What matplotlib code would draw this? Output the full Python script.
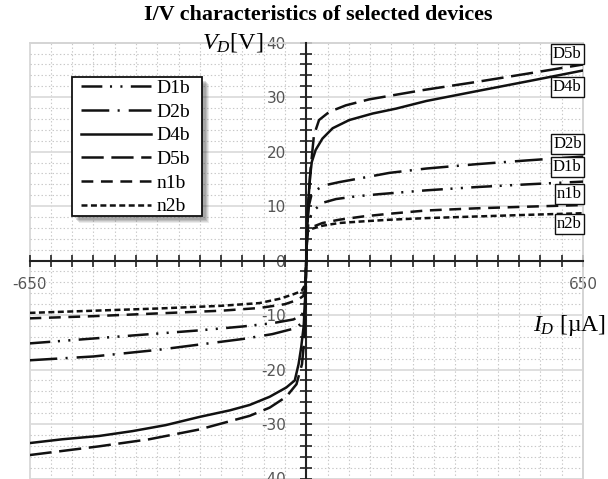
import numpy as np
import matplotlib
matplotlib.use("Agg")
import matplotlib.pyplot as plt
from matplotlib.patches import Rectangle

plt.rcParams['lines.scale_dashes'] = False
plt.rcParams['mathtext.fontset'] = 'custom'
plt.rcParams['mathtext.rm'] = 'Liberation Serif'
plt.rcParams['mathtext.it'] = 'Liberation Serif:italic'

# ---------------- data (I in uA, V in V) ----------------
d5b_i = [-650, -487, -369, -251, -133, -86, -47, -23, -10, -4, -1.5, 0,
         1, 3, 6, 10, 18, 30, 54, 93, 148, 274, 400, 526, 650]
d5b_v = [-35.7, -34.1, -32.8, -31.0, -28.5, -27.0, -25.0, -22.7, -19.0, -14.0, -8.0, 0,
         4, 8, 12, 16.6, 23.0, 25.8, 27.3, 28.5, 29.6, 31.3, 32.8, 34.4, 36.0]

d4b_i = [-650, -573, -487, -408, -330, -251, -180, -133, -86, -47, -27, -18, -12, -6, -2, 0,
         2, 5, 9, 13, 22, 38, 62, 101, 156, 211, 282, 400, 526, 650]
d4b_v = [-33.5, -32.8, -32.2, -31.3, -30.2, -28.7, -27.5, -26.5, -25.0, -23.3, -22.0, -19.0, -16.0, -12.0, -6.0, 0,
         5, 11, 15.5, 18.1, 20.3, 22.4, 24.3, 25.8, 27.0, 27.9, 29.3, 31.1, 33.0, 34.9]

d2b_i = [-650, -500, -350, -250, -150, -80, -30, -10, -3, 0,
         2, 6, 12, 22, 42, 77, 133, 195, 282, 400, 520, 650]
d2b_v = [-18.3, -17.6, -16.4, -15.4, -14.4, -13.5, -12.5, -11.5, -9.0, 0,
         6, 10, 12, 12.9, 13.8, 14.4, 15.2, 16.1, 16.9, 17.7, 18.4, 19.1]

d1b_i = [-650, -500, -350, -250, -150, -80, -30, -10, -3, 0,
         2, 5, 12, 22, 38, 70, 117, 172, 282, 400, 520, 650]
d1b_v = [-15.2, -14.3, -13.4, -12.8, -12.1, -11.5, -10.8, -10.0, -8.0, 0,
         4, 7, 8.5, 9.5, 10.6, 11.3, 11.8, 12.2, 12.9, 13.5, 14.0, 14.5]

n1b_i = [-650, -500, -350, -200, -110, -50, -20, -7, -2, 0,
         1, 3, 8, 15, 38, 77, 133, 195, 282, 400, 520, 650]
n1b_v = [-10.6, -10.2, -9.7, -9.2, -8.7, -8.0, -7.2, -6.5, -5.0, 0,
         3, 5.2, 5.8, 6.2, 6.9, 7.5, 8.1, 8.6, 9.2, 9.6, 9.9, 10.2]

n2b_i = [-650, -500, -350, -200, -110, -62, -31, -11, -3, 0,
         1, 3, 7, 38, 77, 133, 195, 282, 400, 520, 650]
n2b_v = [-9.6, -9.2, -8.8, -8.3, -7.8, -7.0, -6.2, -5.6, -4.5, 0,
         3, 5.2, 5.7, 6.4, 6.9, 7.2, 7.5, 7.8, 8.1, 8.4, 8.7]

series_names = ["D1b", "D2b", "D4b", "D5b", "n1b", "n2b"]
end_label_v = {"D5b": 37.9, "D4b": 31.9, "D2b": 21.4, "D1b": 17.1, "n1b": 12.3, "n2b": 6.8}

styles = {
    "D1b": (0, (15, 5.5, 1.5, 6, 1.5, 6)),
    "D2b": (0, (20, 6, 1.5, 6.5)),
    "D4b": "-",
    "D5b": (0, (16, 5.5)),
    "n1b": (0, (8.5, 5.5)),
    "n2b": (0, (4.3, 2.5)),
}
data = {
    "D1b": (d1b_i, d1b_v), "D2b": (d2b_i, d2b_v), "D4b": (d4b_i, d4b_v),
    "D5b": (d5b_i, d5b_v), "n1b": (n1b_i, n1b_v), "n2b": (n2b_i, n2b_v),
}

W, H = 608, 479

# ---------------- figure ----------------
fig = plt.figure(figsize=(6.08, 4.79), dpi=100)
ax = fig.add_axes([29.5 / W, 0.5 / H, 553.5 / W, 435.8 / H])
ax.set_xlim(-650, 650)
ax.set_ylim(-40, 40)

# grid
ax.set_xticks(np.arange(-650, 651, 50), minor=True)
ax.set_yticks(np.arange(-40, 41, 2), minor=True)
ax.set_xticks([-650, 650])
ax.set_xticklabels(["-650", "650"])
ax.set_yticks(np.arange(-40, 41, 10))
ax.set_yticklabels([str(v) for v in range(-40, 41, 10)])
ax.grid(which='minor', linestyle=':', color='#c8c8c8', linewidth=0.8)
ax.yaxis.grid(which='major', linestyle='-', color='#dcdcdc', linewidth=1.3)
ax.xaxis.grid(which='major', visible=False)
ax.set_axisbelow(True)

# spines
for s in ['top', 'right']:
    ax.spines[s].set_color('#d4d4d4')
    ax.spines[s].set_linewidth(1.2)
ax.spines['left'].set_position(('data', 0))
ax.spines['bottom'].set_position(('data', 0))
for s in ['left', 'bottom']:
    ax.spines[s].set_color('#222222')
    ax.spines[s].set_linewidth(1.5)
    ax.spines[s].set_zorder(3)
ax.add_patch(Rectangle((0, 0), 1, 1, transform=ax.transAxes, fill=False,
                       edgecolor='#d4d4d4', linewidth=1.2, zorder=0.5, clip_on=False))

ax.tick_params(axis='y', which='both', direction='inout', length=8.6, width=1.2,
               color='#222222', pad=10.5, labelsize=11, labelcolor='#555555')
ax.tick_params(axis='x', which='both', direction='inout', length=8, width=1.2,
               color='#222222', pad=8, labelsize=11, labelcolor='#555555')
for lab in ax.get_xticklabels() + ax.get_yticklabels():
    lab.set_fontfamily('DejaVu Sans')

# curves
handles = []
for name in series_names:
    xi, vi = data[name]
    ln, = ax.plot(xi, vi, color='#111111', linewidth=1.8, linestyle=styles[name],
                  label=name, zorder=4, dash_capstyle='butt')
    handles.append(ln)

# end labels
for name in ["D5b", "D4b", "D2b", "D1b", "n1b", "n2b"]:
    ax.text(647, end_label_v[name], name, ha='right', va='center',
            fontsize=12, family='Liberation Serif', zorder=6,
            bbox=dict(boxstyle='square,pad=0.12', facecolor='white',
                      edgecolor='#111111', linewidth=1.0))

# legend frame with soft shadow (drawn in figure pixels)
bx0, by0, bx1, by1 = 72, 77, 202, 216
for k, a in [(7, 0.10), (6, 0.12), (5, 0.15), (4, 0.18)]:
    fig.patches.append(Rectangle(((bx0 + k) / W, 1 - (by1 + k) / H),
                                 (bx1 - bx0) / W, (by1 - by0) / H,
                                 transform=fig.transFigure, facecolor='#404040',
                                 edgecolor='none', alpha=a, zorder=8))
fig.patches.append(Rectangle((bx0 / W, 1 - by1 / H), (bx1 - bx0) / W, (by1 - by0) / H,
                             transform=fig.transFigure, facecolor='white',
                             edgecolor='#111111', linewidth=1.3, zorder=9))

leg = fig.legend(handles=handles, loc='upper left',
                 bbox_to_anchor=(81 / W, 1 - 79.5 / H),
                 borderaxespad=0, frameon=False,
                 prop={'family': 'Liberation Serif', 'size': 14},
                 handlelength=3.6, handletextpad=0.3, labelspacing=0.31,
                 borderpad=0)
leg.set_zorder(10)

# axis labels and title
fig.text(263 / W, 1 - 43 / H, r"$V_D$[V]", ha='right', va='center',
         fontsize=17.5, family='Liberation Serif')
fig.text(606 / W, 1 - 325 / H, r"$I_D$ [µA]", ha='right', va='center',
         fontsize=17, family='Liberation Serif')
fig.text(318 / W, 1 - 15 / H, "I/V characteristics of selected devices",
         ha='center', va='center', fontsize=15.8, fontweight='bold',
         family='Liberation Serif')

fig.savefig("out.png", dpi=100)
